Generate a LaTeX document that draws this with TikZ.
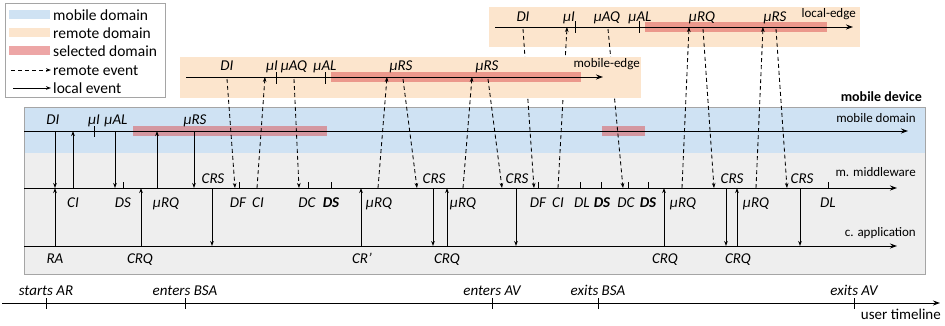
\documentclass[tikz,border=0pt]{standalone}
\usepackage{fontspec}
\setmainfont{Carlito}
\usetikzlibrary{arrows.meta}
\definecolor{mobblue}{RGB}{207,226,243}
\definecolor{rempeach}{RGB}{252,229,205}
\definecolor{selred}{RGB}{218,70,70}
\definecolor{graybg}{RGB}{238,238,238}
\definecolor{boxgray}{RGB}{165,165,165}
\newcommand\lblf{\fontsize{15}{17}\selectfont\itshape}
\newcommand\sidef{\fontsize{13}{15}\selectfont}
\tikzset{
  lbl/.style={font=\lblf, inner sep=0pt, anchor=base},
  sidelbl/.style={font=\sidef, inner sep=0pt, anchor=base east},
  legtxt/.style={font=\fontsize{15.5}{17}\selectfont, inner sep=0pt, anchor=base west},
  ev/.style={line width=0.85pt, -{Stealth[length=5pt,width=3.6pt]}},
  rev/.style={ev, dash pattern=on 4pt off 3pt},
  tline/.style={line width=1pt, -{Stealth[length=7pt,width=5pt]}},
  tickmark/.style={line width=0.85pt},
  selbar/.style={fill=selred, fill opacity=0.48, draw=none},
}
\begin{document}
\begin{tikzpicture}[x=1pt,y=-1pt]
\useasboundingbox (0,0) rectangle (945,325);

% ---------- legend ----------
\node[draw=boxgray, line width=0.9pt, fill=white, minimum width=160pt, minimum height=94pt, inner sep=0pt] (legend) at (85,50) {};
\fill[mobblue] (9,10) rectangle (50,19);
\fill[rempeach] (9,28) rectangle (50,37);
\fill[selred, fill opacity=0.48] (9,46) rectangle (50,55);
\node[legtxt] (lg1) at (53,20) {mobile domain};
\node[legtxt] (lg2) at (53,38) {remote domain};
\node[legtxt] (lg3) at (53,56) {selected domain};
\node[legtxt] (lg4) at (53,75) {remote event};
\node[legtxt] (lg5) at (53,93) {local event};
\coordinate (lr1) at (11,70); \coordinate (lr2) at (51,70);
\draw[rev] (lr1) -- (lr2);
\coordinate (ll1) at (13,88); \coordinate (ll2) at (51,88);
\draw[ev] (ll1) -- (ll2);

% ---------- mobile device ----------
\fill[graybg] (24,107) rectangle (925,274);
\fill[mobblue] (24,107) rectangle (925,153);
\node[draw=boxgray, line width=0.9pt, minimum width=901pt, minimum height=167pt, inner sep=0pt] (device) at (474.5,190.5) {};
\node[font=\fontsize{14}{16}\selectfont\bfseries, inner sep=0pt, anchor=base east] (devlbl) at (922,101) {mobile device};
\node[selbar, minimum width=194pt, minimum height=10pt, inner sep=0pt] (mbar1) at (230,131) {};
\node[selbar, minimum width=43pt, minimum height=10pt, inner sep=0pt] (mbar2) at (623.5,131) {};

\coordinate (mdL) at (24,131); \coordinate (mdR) at (908,131);
\coordinate (mwL) at (24,188); \coordinate (mwR) at (897,188);
\coordinate (apL) at (24,246); \coordinate (apR) at (897,246);
\draw[tline] (mdL) -- (mdR);
\draw[tline] (mwL) -- (mwR);
\draw[tline] (apL) -- (apR);
\node[sidelbl] (mdlbl) at (916,122) {mobile domain};
\node[sidelbl] (mwlbl) at (916,176) {m. middleware};
\node[sidelbl] (aplbl) at (916,236) {c. application};

% ticks
\coordinate (mt1a) at (94,126); \coordinate (mt1b) at (94,137);
\draw[tickmark] (mt1a) -- (mt1b);
\foreach \i/\x in {1/123,2/239,3/308,4/331,5/538,6/580,7/601,8/628,9/648,10/828}{
  \coordinate (wt\i a) at (\x,182); \coordinate (wt\i b) at (\x,188.5);
  \draw[tickmark] (wt\i a) -- (wt\i b);
}

% labels mobile domain
\node[lbl] (mdDI) at (53,124) {DI};
\node[lbl] (mdmI) at (94,124) {µI};
\node[lbl] (mdmAL) at (116,124) {µAL};
\node[lbl] (mdmRS) at (195,124) {µRS};

% labels above middleware
\foreach \i/\x in {1/213,2/434,3/517,4/732,5/802}{
  \node[lbl] (crs\i) at (\x,183) {CRS};
}
% labels below middleware
\foreach \n/\x/\t in {w1/73/CI, w2/123/DS, w3/166/µRQ, w4/238/DF, w5/258/CI, w6/307/DC, w7/331/{\bfseries DS},
  w8/379/µRQ, w9/463/µRQ, w10/538/DF, w11/558/CI, w12/582/DL, w13/602/{\bfseries DS}, w14/626/DC, w15/648/{\bfseries DS},
  w16/683/µRQ, w17/756/µRQ, w18/828/DL}{
  \node[lbl] (\n) at (\x,207) {\t};
}
% labels application
\foreach \n/\x/\t in {a1/55/RA, a2/140/CRQ, a3/362/CR’, a4/447/CRQ, a5/665/CRQ, a6/738/CRQ}{
  \node[lbl] (\n) at (\x,263) {\t};
}

% local events
\foreach \n/\xa/\ya/\xb/\yb in {
  s1/55/131/55/188, s2/73/188/73/131, s3/115/131/115/188, s4/157/188/157/131, s5/194/131/194/188,
  s6/55/246/55/188, s7/141/246/141/188, s8/212/188/212/246, s9/361/246/361/188, s10/433/188/433/246,
  s11/447/246/447/188, s12/516/188/516/246, s13/664/246/664/188, s14/726/188/726/246,
  s15/737/246/737/188, s16/800/188/800/246}{
  \coordinate (\n a) at (\xa,\ya); \coordinate (\n b) at (\xb,\yb);
  \draw[ev] (\n a) -- (\n b);
}

% ---------- local-edge ----------
\node[fill=rempeach, minimum width=371pt, minimum height=40pt, inner sep=0pt] (lebox) at (674.5,27) {};
\node[selbar, minimum width=182pt, minimum height=10pt, inner sep=0pt] (lebar) at (736,27) {};
\coordinate (leL) at (495,27); \coordinate (leR) at (853,27);
\draw[tline] (leL) -- (leR);
\node[sidelbl] (lelbl) at (856,17) {local-edge};
\foreach \i/\x in {1/575,2/639}{
  \coordinate (lt\i a) at (\x,21); \coordinate (lt\i b) at (\x,33);
  \draw[tickmark] (lt\i a) -- (lt\i b);
}
\foreach \n/\x/\t in {l1/523/DI, l2/569/µI, l3/607/µAQ, l4/640/µAL, l5/702/µRQ, l6/775/µRS}{
  \node[lbl] (\n) at (\x,21) {\t};
}
\foreach \n/\xa/\ya/\xb/\yb in {
  e1/523/29/534/188, e2/558/188/567/27, e3/608/29/623/188, e4/682/188/689/27,
  e5/703/29/714/188, e6/756/188/763/27, e7/776/29/787/188}{
  \coordinate (\n a) at (\xa,\ya); \coordinate (\n b) at (\xb,\yb);
  \draw[rev] (\n a) -- (\n b);
}

% ---------- mobile-edge ----------
\node[fill=rempeach, minimum width=461pt, minimum height=41pt, inner sep=0pt] (mebox) at (410.5,77.5) {};
\node[selbar, minimum width=250pt, minimum height=10pt, inner sep=0pt] (mebar) at (456,77) {};
\coordinate (meL) at (186,77); \coordinate (meR) at (603,77);
\draw[tline] (meL) -- (meR);
\node[sidelbl] (melbl) at (640,67) {mobile-edge};
\foreach \i/\x in {1/276,2/325}{
  \coordinate (et\i a) at (\x,72); \coordinate (et\i b) at (\x,84);
  \draw[tickmark] (et\i a) -- (et\i b);
}
\foreach \n/\x/\t in {m1/227/DI, m2/272/µI, m3/294/µAQ, m4/325/µAL, m5/401/µRS, m6/487/µRS}{
  \node[lbl] (\n) at (\x,70) {\t};
}
\foreach \n/\xa/\ya/\xb/\yb in {
  d1/227/79/235/188, d2/257/188/265/77, d3/294/79/299/188, d4/378/188/387/77,
  d5/403/79/417/188, d6/463/188/472/77, d7/488/79/502/188}{
  \coordinate (\n a) at (\xa,\ya); \coordinate (\n b) at (\xb,\yb);
  \draw[rev] (\n a) -- (\n b);
}

% ---------- user timeline ----------
\coordinate (utL) at (2,303); \coordinate (utR) at (940,303);
\draw[tline] (utL) -- (utR);
\node[font=\fontsize{15}{17}\selectfont, inner sep=0pt, anchor=base east] (utlbl) at (941,319) {user timeline};
\foreach \n/\x/\t in {u1/46/starts AR, u2/185/enters BSA, u3/492/enters AV, u4/598/exits BSA, u5/854/exits AV}{
  \coordinate (\n a) at (\x,298); \coordinate (\n b) at (\x,309);
  \draw[tickmark] (\n a) -- (\n b);
  \node[lbl] (\n) at (\x,295) {\t};
}
\end{tikzpicture}
\end{document}
